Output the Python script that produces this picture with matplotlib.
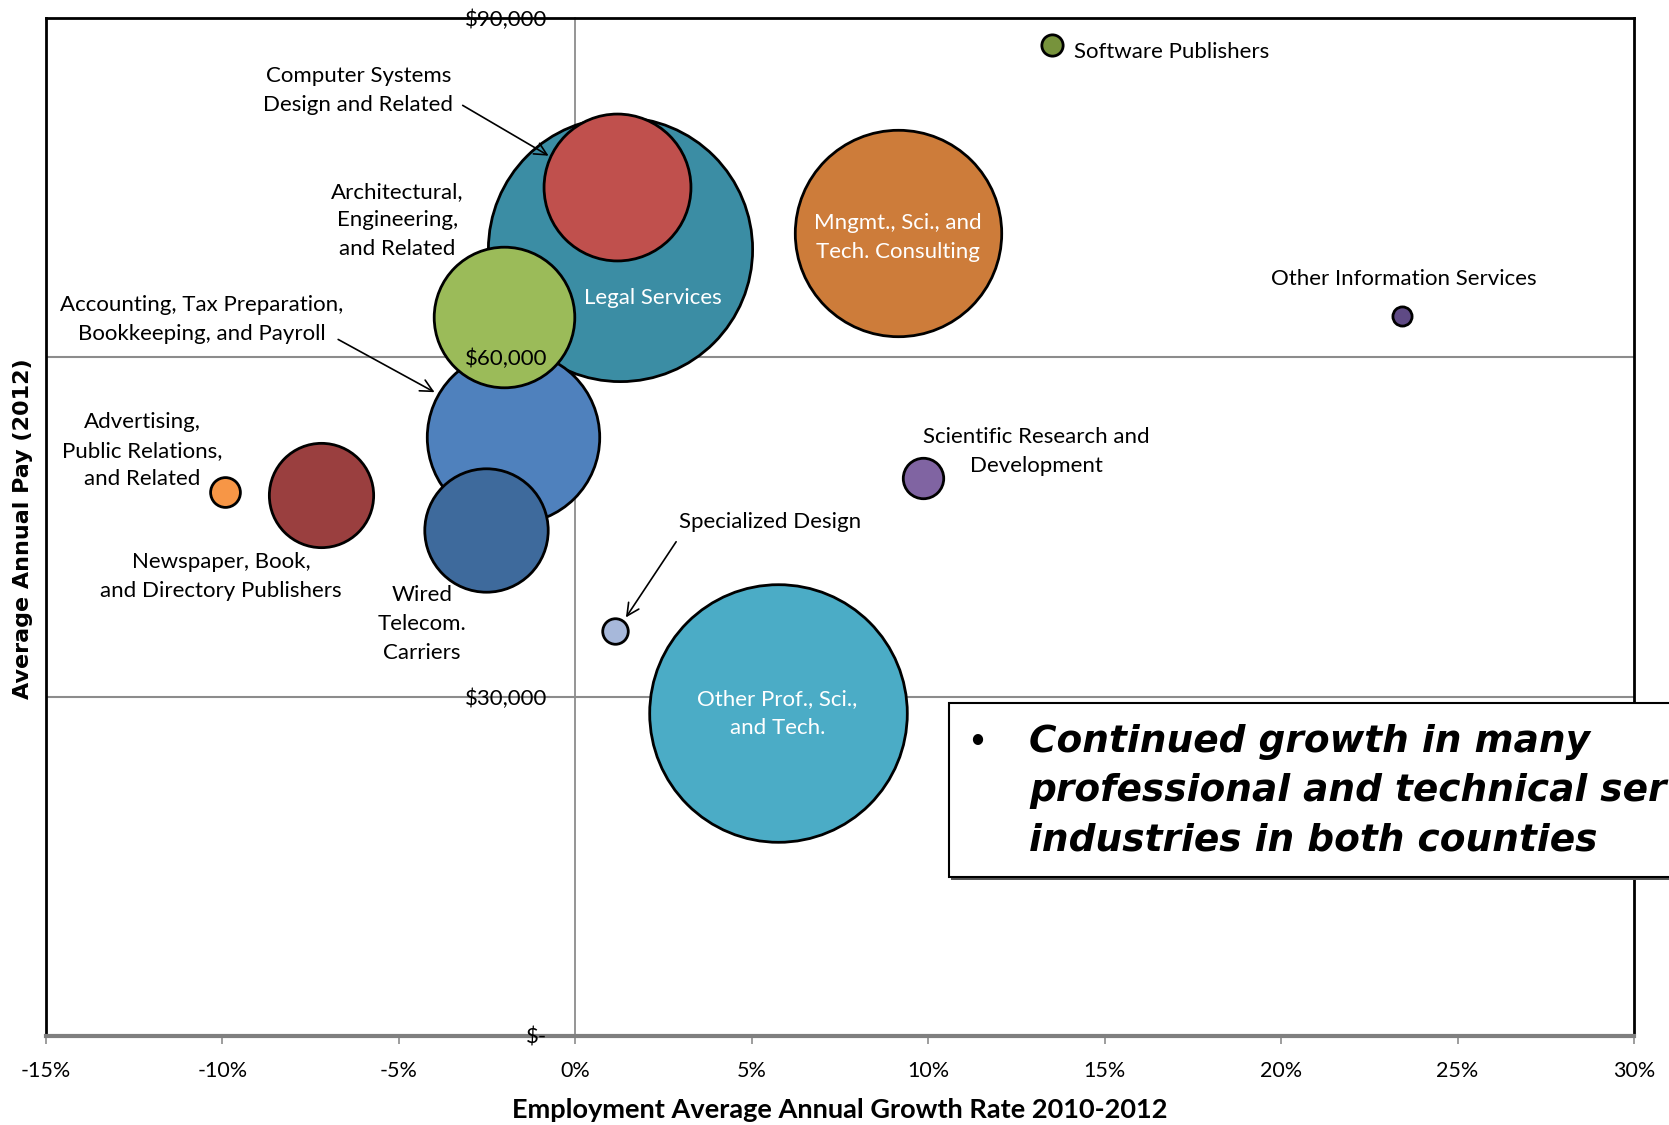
import matplotlib
matplotlib.use("Agg")
import matplotlib.pyplot as plt
from matplotlib.patches import Rectangle
from matplotlib.lines import Line2D

# industries, growth (%), average pay ($), bubble size (relative employment)
industries = ["Legal Services", "Accounting, Tax Preparation,\nBookkeeping, and Payroll",
              "Computer Systems\nDesign and Related", "Architectural,\nEngineering,\nand Related",
              "Mngmt., Sci., and\nTech. Consulting", "Wired\nTelecom.\nCarriers",
              "Newspaper, Book,\nand Directory Publishers", "Other Prof., Sci.,\nand Tech.",
              "Software Publishers", "Other Information Services",
              "Scientific Research and\nDevelopment", "Advertising,\nPublic Relations,\nand Related",
              "Specialized Design"]
growth = [1.27, -1.78, 1.18, -2.02, 9.14, -2.53, -7.21, 5.73, 13.5, 23.43, 9.86, -9.92, 1.12]
pay = [69600, 53000, 75100, 63550, 71000, 44700, 47800, 28600, 87650, 63650, 49350, 48100, 35800]
emp_size = [15400, 6560, 4760, 4360, 9400, 3360, 2400, 14640, 100, 81, 361, 196, 144]
colors = ["#3B8DA4", "#4F81BD", "#C0504D", "#9BBB59", "#CD7C3A", "#3E6A9C", "#9A3F3F",
          "#4BACC6", "#77933C", "#5F4A85", "#8064A2", "#F79646", "#A7B8DA"]

x_ticks = [-15, -10, -5, 0, 5, 10, 15, 20, 25, 30]
y_ticks = [0, 30000, 60000, 90000]
y_ticklabels = ["$-", "$30,000", "$60,000", "$90,000"]

plt.rcParams['font.family'] = ['Lato', 'DejaVu Sans']

fig = plt.figure(figsize=(16.69, 11.25), dpi=100)
ax = fig.add_axes([46/1669, 1 - 1036/1125, (1634 - 46)/1669, (1036 - 18)/1125])
ax.set_xlim(-15, 30)
ax.set_ylim(0, 90000)

# bubbles, drawn in order so the overlaps stack like the original
for i in range(len(industries)):
    ax.scatter(growth[i], pay[i], s=emp_size[i] * 2.35, color=colors[i],
               edgecolor="black", linewidth=2, zorder=3 + i, clip_on=False)

# grid and axes
for yv in [30000, 60000]:
    ax.axhline(yv, color="#8C8C8C", lw=1.5, zorder=1)
ax.spines['left'].set_position(('data', 0))
ax.spines['left'].set_color("#8C8C8C")
ax.spines['left'].set_linewidth(1.3)
ax.spines['bottom'].set_color("#7F7F7F")
ax.spines['bottom'].set_linewidth(3)
for sp in ['top', 'right']:
    ax.spines[sp].set_color("black")
    ax.spines[sp].set_linewidth(2)
ax.add_line(Line2D([0, 0], [0, 1], transform=ax.transAxes, color="black", lw=2, clip_on=False))

ax.set_xticks(x_ticks)
ax.set_xticklabels(["%d%%" % v for v in x_ticks], fontsize=15.5)
ax.tick_params(axis='x', direction='out', length=6, width=1.2, color="#8C8C8C", pad=12)
ax.set_yticks(y_ticks)
ax.set_yticklabels(y_ticklabels, fontsize=16)
ax.tick_params(axis='y', length=0, pad=20)
for lbl in ax.get_yticklabels():
    lbl.set_zorder(30)
ax.yaxis.set_zorder(30)

fig.text(23/1669, 1 - 529/1125, "Average Annual Pay (2012)", rotation=90, ha="center", va="center",
         fontsize=16, fontweight="bold", family="DejaVu Sans")
fig.text(840/1669, 1 - 1110/1125, "Employment Average Annual Growth Rate 2010-2012",
         ha="center", va="center", fontsize=19.5, fontweight="bold")

fs = 16
ls = 1.55
# labels inside bubbles
ax.text(2.2, 65250, "Legal Services", color="white", ha="center", va="center", fontsize=fs, zorder=40)
ax.text(9.14, 70600, "Mngmt., Sci., and\nTech. Consulting", color="white", ha="center", va="center",
        fontsize=fs, linespacing=ls, zorder=40)
ax.text(5.73, 28500, "Other Prof., Sci.,\nand Tech.", color="white", ha="center", va="center",
        fontsize=fs, linespacing=ls, zorder=40)

# labels outside bubbles
ax.text(14.14, 87000, "Software Publishers", ha="left", va="center", fontsize=fs)
ax.text(-5.04, 72100, "Architectural,\nEngineering,\nand Related", ha="center", va="center",
        fontsize=fs, linespacing=ls)
ax.text(23.49, 66950, "Other Information Services", ha="center", va="center", fontsize=fs)
ax.text(13.06, 51650, "Scientific Research and\nDevelopment", ha="center", va="center",
        fontsize=fs, linespacing=ls)
ax.text(-12.27, 51750, "Advertising,\nPublic Relations,\nand Related", ha="center", va="center",
        fontsize=fs, linespacing=ls)
ax.text(-10.04, 40650, "Newspaper, Book,\nand Directory Publishers", ha="center", va="center",
        fontsize=fs, linespacing=ls)
ax.text(-4.34, 36400, "Wired\nTelecom.\nCarriers", ha="center", va="center", fontsize=fs, linespacing=ls)

# labels with arrows
arrow = dict(arrowstyle="->", color="black", lw=1.2, mutation_scale=22)
ax.text(-6.15, 83600, "Computer Systems\nDesign and Related", ha="center", va="center",
        fontsize=fs, linespacing=ls)
ax.annotate("", xy=(-0.69, 77700), xytext=(-3.26, 82400), arrowprops=arrow, zorder=40)
ax.text(-10.59, 63350, "Accounting, Tax Preparation,\nBookkeeping, and Payroll", ha="center",
        va="center", fontsize=fs, linespacing=ls)
ax.annotate("", xy=(-3.92, 56800), xytext=(-6.79, 61700), arrowprops=arrow, zorder=40)
ax.text(5.52, 45480, "Specialized Design", ha="center", va="center", fontsize=fs)
ax.annotate("", xy=(1.39, 36800), xytext=(2.90, 43900), arrowprops=arrow, zorder=40)

# callout box, runs off the right edge like the slide
fig.patches.append(Rectangle((951/1669, 1 - 880/1125), 0.5, 175/1125, transform=fig.transFigure,
                             facecolor="#555555", edgecolor="none", zorder=48))
fig.patches.append(Rectangle((949/1669, 1 - 877/1125), 0.5, 174/1125, transform=fig.transFigure,
                             facecolor="white", edgecolor="black", lw=1.5, zorder=49))
fig.text(977/1669, 1 - 740/1125, "\u2022", ha="center", va="center", fontsize=20, zorder=50)
t = fig.text(1029/1669, 1 - 791/1125,
             "Continued growth in many\nprofessional and technical services\nindustries in both counties",
             ha="left", va="center", fontsize=27, fontweight="bold", style="italic",
             family="DejaVu Sans", linespacing=1.48, zorder=50)
t.set_clip_on(True)
t.set_clip_box(fig.bbox)

fig.savefig("out.png", dpi=100)
